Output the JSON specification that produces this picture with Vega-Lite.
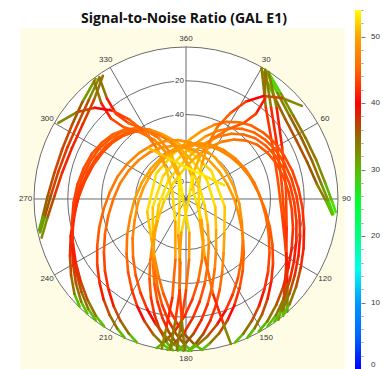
{
  "$schema": "https://vega.github.io/schema/vega-lite/v6.json",
  "width": 383,
  "height": 369,
  "padding": 0,
  "autosize": "none",
  "background": "white",
  "config": {"view": {"stroke": null}, "font": "Liberation Sans"},
  "resolve": {"scale": {"y": "independent"}, "axis": {"y": "independent"}},
  "layer": [
    {
      "data": {"values": [{}]},
      "mark": {"type": "rect", "fill": "#fffce6"},
      "encoding": {
        "x": {"datum": -98, "type": "quantitative", "scale": {"domain": [-110.13, 116.64], "nice": false, "zero": false}, "axis": null},
        "x2": {"datum": 94.1},
        "y": {"datum": 101.1, "type": "quantitative", "scale": {"domain": [-100.66, 117.83], "nice": false, "zero": false}, "axis": null},
        "y2": {"datum": -100.66}
      }
    },
    {
      "data": {"values": [{"zd": 90}]},
      "mark": {"type": "point", "shape": "circle", "filled": true, "fill": "white", "opacity": 1},
      "encoding": {
        "x": {"datum": 0, "type": "quantitative", "scale": {"domain": [-110.13, 116.64], "nice": false, "zero": false}, "axis": null},
        "y": {"datum": 0, "type": "quantitative", "scale": {"domain": [-100.66, 117.83], "nice": false, "zero": false}, "axis": null},
        "size": {"field": "zd", "type": "quantitative", "scale": {"type": "pow", "exponent": 2, "domain": [0, 90], "range": [0, 92416], "zero": true, "nice": false}, "legend": null}
      }
    },
    {
      "data": {"values": [{"zd": 90}, {"zd": 70}, {"zd": 50}, {"zd": 30}, {"zd": 10}]},
      "mark": {"type": "point", "shape": "circle", "filled": false, "stroke": "#5a5a5a", "strokeWidth": 0.9, "opacity": 1},
      "encoding": {
        "x": {"datum": 0, "type": "quantitative", "scale": {"domain": [-110.13, 116.64], "nice": false, "zero": false}, "axis": null},
        "y": {"datum": 0, "type": "quantitative", "scale": {"domain": [-100.66, 117.83], "nice": false, "zero": false}, "axis": null},
        "size": {"field": "zd", "type": "quantitative", "scale": {"type": "pow", "exponent": 2, "domain": [0, 90], "range": [0, 92416], "zero": true, "nice": false}, "legend": null}
      }
    },
    {
      "data": {"values": [{"az": 0}, {"az": 30}, {"az": 60}, {"az": 90}, {"az": 120}, {"az": 150}]},
      "transform": [
        {"calculate": "90*sin(datum.az*PI/180)", "as": "sx"},
        {"calculate": "90*cos(datum.az*PI/180)", "as": "sy"},
        {"calculate": "-datum.sx", "as": "ex"},
        {"calculate": "-datum.sy", "as": "ey"}
      ],
      "mark": {"type": "rule", "stroke": "#5a5a5a", "strokeWidth": 0.9},
      "encoding": {
        "x": {"field": "sx", "type": "quantitative", "scale": {"domain": [-110.13, 116.64], "nice": false, "zero": false}, "axis": null},
        "y": {"field": "sy", "type": "quantitative", "scale": {"domain": [-100.66, 117.83], "nice": false, "zero": false}, "axis": null},
        "x2": {"field": "ex"},
        "y2": {"field": "ey"}
      }
    },
    {
      "data": {"values": [
        {"az": 0, "t": "360"}, {"az": 30, "t": "30"}, {"az": 60, "t": "60"}, {"az": 90, "t": "90"},
        {"az": 120, "t": "120"}, {"az": 150, "t": "150"}, {"az": 180, "t": "180"}, {"az": 210, "t": "210"},
        {"az": 240, "t": "240"}, {"az": 270, "t": "270"}, {"az": 300, "t": "300"}, {"az": 330, "t": "330"}
      ]},
      "transform": [
        {"calculate": "95*sin(datum.az*PI/180)", "as": "lx"},
        {"calculate": "95*cos(datum.az*PI/180)", "as": "ly"}
      ],
      "mark": {"type": "text", "fontSize": 8, "fill": "#333333", "align": "center", "baseline": "middle"},
      "encoding": {
        "x": {"field": "lx", "type": "quantitative", "scale": {"domain": [-110.13, 116.64], "nice": false, "zero": false}, "axis": null},
        "y": {"field": "ly", "type": "quantitative", "scale": {"domain": [-100.66, 117.83], "nice": false, "zero": false}, "axis": null},
        "text": {"field": "t", "type": "nominal"}
      }
    },
    {
      "data": {"values": [{"el": 20}, {"el": 40}, {"el": 60}, {"el": 80}]},
      "transform": [{"calculate": "90-datum.el", "as": "ry"}, {"calculate": "0", "as": "rx"}],
      "mark": {"type": "text", "fontSize": 8, "fill": "white", "stroke": "white", "strokeWidth": 3, "align": "right", "baseline": "middle", "dx": -2},
      "encoding": {
        "x": {"field": "rx", "type": "quantitative", "scale": {"domain": [-110.13, 116.64], "nice": false, "zero": false}, "axis": null},
        "y": {"field": "ry", "type": "quantitative", "scale": {"domain": [-100.66, 117.83], "nice": false, "zero": false}, "axis": null},
        "text": {"field": "el", "type": "quantitative"}
      }
    },
    {
      "data": {"values": [{"el": 20}, {"el": 40}, {"el": 60}, {"el": 80}]},
      "transform": [{"calculate": "90-datum.el", "as": "ry"}, {"calculate": "0", "as": "rx"}],
      "mark": {"type": "text", "fontSize": 8, "fill": "#333333", "align": "right", "baseline": "middle", "dx": -2},
      "encoding": {
        "x": {"field": "rx", "type": "quantitative", "scale": {"domain": [-110.13, 116.64], "nice": false, "zero": false}, "axis": null},
        "y": {"field": "ry", "type": "quantitative", "scale": {"domain": [-100.66, 117.83], "nice": false, "zero": false}, "axis": null},
        "text": {"field": "el", "type": "quantitative"}
      }
    },
    {
      "data": {"values": [
        {"s":"W1","az":324.5,"el":1.6,"snr":29.4},{"s":"W1","az":315.4,"el":7.9,"snr":36.6},{"s":"W1","az":305.2,"el":11.9,"snr":38.6},{"s":"W1","az":293.6,"el":13.4,"snr":39},{"s":"W1","az":282.1,"el":12.7,"snr":38.8},{"s":"W1","az":271.3,"el":9.9,"snr":37.9},{"s":"W1","az":262.6,"el":5.6,"snr":34.6},{"s":"W1","az":257.1,"el":1.4,"snr":29.1},
        {"s":"W2","az":326,"el":2,"snr":30},{"s":"W2","az":317,"el":10,"snr":38},{"s":"W2","az":306,"el":14.5,"snr":39.4},{"s":"W2","az":294,"el":16,"snr":39.7},{"s":"W2","az":282,"el":15,"snr":39.5},{"s":"W2","az":271,"el":12,"snr":38.6},{"s":"W2","az":262,"el":7,"snr":36},{"s":"W2","az":255,"el":1.5,"snr":29.3},
        {"s":"W3","az":323,"el":1,"snr":28.5},{"s":"W3","az":313,"el":6,"snr":35},{"s":"W3","az":303,"el":9.5,"snr":37.7},{"s":"W3","az":292,"el":11,"snr":38.3},{"s":"W3","az":281,"el":10.5,"snr":38.2},{"s":"W3","az":271,"el":8,"snr":36.7},{"s":"W3","az":263,"el":4.5,"snr":33.5},{"s":"W3","az":258,"el":1,"snr":28.5},
        {"s":"E1","az":31.5,"el":0.3,"snr":25.3},{"s":"E1","az":40.6,"el":7,"snr":31.8},{"s":"E1","az":51,"el":11.3,"snr":34.8},{"s":"E1","az":62.2,"el":12.7,"snr":35.6},{"s":"E1","az":73.2,"el":12,"snr":35.2},{"s":"E1","az":83.6,"el":9.4,"snr":33.6},{"s":"E1","az":91.2,"el":5.4,"snr":30.4},{"s":"E1","az":95.9,"el":2.3,"snr":27.3},
        {"s":"E2","az":30,"el":1,"snr":26},{"s":"E2","az":40,"el":9.5,"snr":33.6},{"s":"E2","az":51,"el":14.5,"snr":36.7},{"s":"E2","az":62,"el":16,"snr":37.6},{"s":"E2","az":73,"el":15,"snr":37},{"s":"E2","az":83.5,"el":12,"snr":35.2},{"s":"E2","az":91,"el":7,"snr":31.8},{"s":"E2","az":96,"el":3,"snr":28},
        {"s":"E3","az":33,"el":0.5,"snr":25.5},{"s":"E3","az":42,"el":6,"snr":31},{"s":"E3","az":52,"el":9.5,"snr":33.6},{"s":"E3","az":63,"el":10.5,"snr":34.3},{"s":"E3","az":73.5,"el":9.5,"snr":33.6},{"s":"E3","az":83.5,"el":7,"snr":31.8},{"s":"E3","az":91,"el":3.5,"snr":28.5},{"s":"E3","az":95,"el":1,"snr":26},
        {"s":"V1","az":31.5,"el":0.3,"snr":27.5},{"s":"V1","az":43,"el":16.1,"snr":39.7},{"s":"V1","az":59.7,"el":27.5,"snr":42},{"s":"V1","az":81,"el":32.6,"snr":43.2},{"s":"V1","az":103,"el":30,"snr":42.5},{"s":"V1","az":121.2,"el":20.5,"snr":40.6},{"s":"V1","az":132.3,"el":9.7,"snr":37.8},{"s":"V1","az":140.3,"el":0,"snr":27},
        {"s":"V2","az":33,"el":0.3,"snr":27.5},{"s":"V2","az":45,"el":14,"snr":39.2},{"s":"V2","az":62,"el":25.5,"snr":41.6},{"s":"V2","az":84,"el":30.5,"snr":42.6},{"s":"V2","az":106,"el":28,"snr":42.1},{"s":"V2","az":124,"el":18.5,"snr":40.2},{"s":"V2","az":135,"el":8,"snr":36.7},{"s":"V2","az":142.5,"el":0,"snr":27},
        {"s":"V3","az":30,"el":0.5,"snr":27.8},{"s":"V3","az":41,"el":18,"snr":40.1},{"s":"V3","az":57.5,"el":29.5,"snr":42.4},{"s":"V3","az":78.5,"el":34.5,"snr":43.6},{"s":"V3","az":100.5,"el":32,"snr":43},{"s":"V3","az":118.5,"el":22.5,"snr":41},{"s":"V3","az":130,"el":11.5,"snr":38.5},{"s":"V3","az":138,"el":0.3,"snr":27.5},
        {"s":"L1","az":220.7,"el":0.5,"snr":27.8},{"s":"L1","az":225.6,"el":3.1,"snr":31.7},{"s":"L1","az":232.4,"el":7.8,"snr":36.5},{"s":"L1","az":239.9,"el":12.7,"snr":38.8},{"s":"L1","az":248.2,"el":17.3,"snr":40},{"s":"L1","az":257.1,"el":21.4,"snr":40.8},{"s":"L1","az":266.6,"el":24.8,"snr":41.5},{"s":"L1","az":276.2,"el":27.5,"snr":42},{"s":"L1","az":285.8,"el":29.7,"snr":42.4},{"s":"L1","az":295,"el":31.5,"snr":42.9},{"s":"L1","az":303.7,"el":33.2,"snr":43.3},{"s":"L1","az":311.7,"el":35.3,"snr":43.8},{"s":"L1","az":319.3,"el":37.8,"snr":44.5},{"s":"L1","az":326.3,"el":41.3,"snr":45.3},{"s":"L1","az":333.2,"el":45.7,"snr":46.1},{"s":"L1","az":340.2,"el":51.2,"snr":47.2},{"s":"L1","az":347.9,"el":57.8,"snr":48.6},{"s":"L1","az":357.7,"el":65.2,"snr":50},{"s":"L1","az":13.9,"el":73.1,"snr":51.6},{"s":"L1","az":50.2,"el":79.5,"snr":52.9},{"s":"L1","az":109.3,"el":78.3,"snr":52.7},{"s":"L1","az":139.9,"el":70,"snr":51},{"s":"L1","az":153.4,"el":59.8,"snr":49},{"s":"L1","az":161.6,"el":49.2,"snr":46.8},{"s":"L1","az":167.5,"el":38.7,"snr":44.7},{"s":"L1","az":172.4,"el":28.7,"snr":42.2},{"s":"L1","az":176.7,"el":19.5,"snr":40.4},{"s":"L1","az":180.7,"el":11.2,"snr":38.4},{"s":"L1","az":184.5,"el":4.2,"snr":33.2},{"s":"L1","az":187.1,"el":0.1,"snr":27.2},
        {"s":"L2","az":216.7,"el":0.5,"snr":27.8},{"s":"L2","az":221.6,"el":2.9,"snr":31.7},{"s":"L2","az":228.4,"el":7.2,"snr":36.5},{"s":"L2","az":235.9,"el":11.7,"snr":38.8},{"s":"L2","az":244.2,"el":15.9,"snr":40},{"s":"L2","az":253.1,"el":19.7,"snr":40.8},{"s":"L2","az":262.6,"el":22.8,"snr":41.5},{"s":"L2","az":272.2,"el":25.3,"snr":42},{"s":"L2","az":281.8,"el":27.3,"snr":42.4},{"s":"L2","az":291,"el":29,"snr":42.9},{"s":"L2","az":299.7,"el":30.5,"snr":43.3},{"s":"L2","az":307.7,"el":32.5,"snr":43.8},{"s":"L2","az":315.3,"el":34.8,"snr":44.5},{"s":"L2","az":322.3,"el":38,"snr":45.3},{"s":"L2","az":329.2,"el":42,"snr":46.1},{"s":"L2","az":336.2,"el":47.1,"snr":47.2},{"s":"L2","az":343.9,"el":53.2,"snr":48.6},{"s":"L2","az":353.7,"el":60,"snr":50},{"s":"L2","az":9.9,"el":67.3,"snr":51.6},{"s":"L2","az":46.2,"el":73.1,"snr":52.9},{"s":"L2","az":105.3,"el":72,"snr":52.7},{"s":"L2","az":135.9,"el":64.4,"snr":51},{"s":"L2","az":149.4,"el":55,"snr":49},{"s":"L2","az":157.6,"el":45.3,"snr":46.8},{"s":"L2","az":163.5,"el":35.6,"snr":44.7},{"s":"L2","az":168.4,"el":26.4,"snr":42.2},{"s":"L2","az":172.7,"el":17.9,"snr":40.4},{"s":"L2","az":176.7,"el":10.3,"snr":38.4},{"s":"L2","az":180.5,"el":3.9,"snr":33.2},{"s":"L2","az":183.1,"el":0.1,"snr":27.2},
        {"s":"L3","az":224.7,"el":0.5,"snr":27.8},{"s":"L3","az":229.6,"el":3.3,"snr":31.7},{"s":"L3","az":236.4,"el":8.3,"snr":36.5},{"s":"L3","az":243.9,"el":13.5,"snr":38.8},{"s":"L3","az":252.2,"el":18.3,"snr":40},{"s":"L3","az":261.1,"el":22.7,"snr":40.8},{"s":"L3","az":270.6,"el":26.3,"snr":41.5},{"s":"L3","az":280.2,"el":29.2,"snr":42},{"s":"L3","az":289.8,"el":31.5,"snr":42.4},{"s":"L3","az":299,"el":33.4,"snr":42.9},{"s":"L3","az":307.7,"el":35.2,"snr":43.3},{"s":"L3","az":315.7,"el":37.4,"snr":43.8},{"s":"L3","az":323.3,"el":40.1,"snr":44.5},{"s":"L3","az":330.3,"el":43.8,"snr":45.3},{"s":"L3","az":337.2,"el":48.4,"snr":46.1},{"s":"L3","az":344.2,"el":54.3,"snr":47.2},{"s":"L3","az":351.9,"el":61.3,"snr":48.6},{"s":"L3","az":1.7,"el":69.1,"snr":50},{"s":"L3","az":17.9,"el":77.5,"snr":51.6},{"s":"L3","az":54.2,"el":84.3,"snr":52.9},{"s":"L3","az":113.3,"el":83,"snr":52.7},{"s":"L3","az":143.9,"el":74.2,"snr":51},{"s":"L3","az":157.4,"el":63.4,"snr":49},{"s":"L3","az":165.6,"el":52.2,"snr":46.8},{"s":"L3","az":171.5,"el":41,"snr":44.7},{"s":"L3","az":176.4,"el":30.4,"snr":42.2},{"s":"L3","az":180.7,"el":20.7,"snr":40.4},{"s":"L3","az":184.7,"el":11.9,"snr":38.4},{"s":"L3","az":188.5,"el":4.5,"snr":33.2},{"s":"L3","az":191.1,"el":0.1,"snr":27.2},
        {"s":"L4","az":212.7,"el":0.4,"snr":27.8},{"s":"L4","az":217.6,"el":2.6,"snr":31.7},{"s":"L4","az":224.4,"el":6.6,"snr":36.5},{"s":"L4","az":231.9,"el":10.8,"snr":38.8},{"s":"L4","az":240.2,"el":14.7,"snr":40},{"s":"L4","az":249.1,"el":18.2,"snr":40.8},{"s":"L4","az":258.6,"el":21.1,"snr":41.5},{"s":"L4","az":268.2,"el":23.4,"snr":42},{"s":"L4","az":277.8,"el":25.2,"snr":42.4},{"s":"L4","az":287,"el":26.8,"snr":42.9},{"s":"L4","az":295.7,"el":28.2,"snr":43.3},{"s":"L4","az":303.7,"el":30,"snr":43.8},{"s":"L4","az":311.3,"el":32.1,"snr":44.5},{"s":"L4","az":318.3,"el":35.1,"snr":45.3},{"s":"L4","az":325.2,"el":38.8,"snr":46.1},{"s":"L4","az":332.2,"el":43.5,"snr":47.2},{"s":"L4","az":339.9,"el":49.1,"snr":48.6},{"s":"L4","az":349.7,"el":55.4,"snr":50},{"s":"L4","az":5.9,"el":62.1,"snr":51.6},{"s":"L4","az":42.2,"el":67.6,"snr":52.9},{"s":"L4","az":101.3,"el":66.6,"snr":52.7},{"s":"L4","az":131.9,"el":59.5,"snr":51},{"s":"L4","az":145.4,"el":50.8,"snr":49},{"s":"L4","az":153.6,"el":41.8,"snr":46.8},{"s":"L4","az":159.5,"el":32.9,"snr":44.7},{"s":"L4","az":164.4,"el":24.4,"snr":42.2},{"s":"L4","az":168.7,"el":16.6,"snr":40.4},{"s":"L4","az":172.7,"el":9.5,"snr":38.4},{"s":"L4","az":176.5,"el":3.6,"snr":33.2},{"s":"L4","az":179.1,"el":0.1,"snr":27.2},
        {"s":"R1","az":147.3,"el":0.5,"snr":27.8},{"s":"R1","az":142.4,"el":2.9,"snr":31.7},{"s":"R1","az":135.6,"el":7.3,"snr":36.5},{"s":"R1","az":128.1,"el":11.9,"snr":38.8},{"s":"R1","az":119.8,"el":16.3,"snr":40},{"s":"R1","az":110.9,"el":20.1,"snr":40.8},{"s":"R1","az":101.4,"el":23.3,"snr":41.5},{"s":"R1","az":91.8,"el":25.9,"snr":42},{"s":"R1","az":82.2,"el":27.9,"snr":42.4},{"s":"R1","az":73,"el":29.6,"snr":42.9},{"s":"R1","az":64.3,"el":31.2,"snr":43.3},{"s":"R1","az":56.3,"el":33.2,"snr":43.8},{"s":"R1","az":48.7,"el":35.5,"snr":44.5},{"s":"R1","az":41.7,"el":38.8,"snr":45.3},{"s":"R1","az":34.8,"el":43,"snr":46.1},{"s":"R1","az":27.8,"el":48.1,"snr":47.2},{"s":"R1","az":20.1,"el":54.3,"snr":48.6},{"s":"R1","az":10.3,"el":61.3,"snr":50},{"s":"R1","az":354.1,"el":68.7,"snr":51.6},{"s":"R1","az":317.8,"el":74.7,"snr":52.9},{"s":"R1","az":258.7,"el":73.6,"snr":52.7},{"s":"R1","az":228.1,"el":65.8,"snr":51},{"s":"R1","az":214.6,"el":56.2,"snr":49},{"s":"R1","az":206.4,"el":46.2,"snr":46.8},{"s":"R1","az":200.5,"el":36.4,"snr":44.7},{"s":"R1","az":195.6,"el":27,"snr":42.2},{"s":"R1","az":191.3,"el":18.3,"snr":40.4},{"s":"R1","az":187.3,"el":10.5,"snr":38.4},{"s":"R1","az":183.5,"el":3.9,"snr":33.2},{"s":"R1","az":180.9,"el":0.1,"snr":27.2},
        {"s":"R2","az":144.3,"el":0.4,"snr":27.8},{"s":"R2","az":139.4,"el":2.8,"snr":31.7},{"s":"R2","az":132.6,"el":6.9,"snr":36.5},{"s":"R2","az":125.1,"el":11.3,"snr":38.8},{"s":"R2","az":116.8,"el":15.4,"snr":40},{"s":"R2","az":107.9,"el":19,"snr":40.8},{"s":"R2","az":98.4,"el":22.1,"snr":41.5},{"s":"R2","az":88.8,"el":24.5,"snr":42},{"s":"R2","az":79.2,"el":26.4,"snr":42.4},{"s":"R2","az":70,"el":28,"snr":42.9},{"s":"R2","az":61.3,"el":29.5,"snr":43.3},{"s":"R2","az":53.3,"el":31.4,"snr":43.8},{"s":"R2","az":45.7,"el":33.6,"snr":44.5},{"s":"R2","az":38.7,"el":36.8,"snr":45.3},{"s":"R2","az":31.8,"el":40.7,"snr":46.1},{"s":"R2","az":24.8,"el":45.6,"snr":47.2},{"s":"R2","az":17.1,"el":51.4,"snr":48.6},{"s":"R2","az":7.3,"el":58,"snr":50},{"s":"R2","az":351.1,"el":65.1,"snr":51.6},{"s":"R2","az":314.8,"el":70.8,"snr":52.9},{"s":"R2","az":255.7,"el":69.7,"snr":52.7},{"s":"R2","az":225.1,"el":62.3,"snr":51},{"s":"R2","az":211.6,"el":53.2,"snr":49},{"s":"R2","az":203.4,"el":43.8,"snr":46.8},{"s":"R2","az":197.5,"el":34.4,"snr":44.7},{"s":"R2","az":192.6,"el":25.5,"snr":42.2},{"s":"R2","az":188.3,"el":17.4,"snr":40.4},{"s":"R2","az":184.3,"el":10,"snr":38.4},{"s":"R2","az":180.5,"el":3.7,"snr":33.2},{"s":"R2","az":177.9,"el":0.1,"snr":27.2},
        {"s":"R3","az":151.3,"el":0.5,"snr":27.8},{"s":"R3","az":146.4,"el":3,"snr":31.7},{"s":"R3","az":139.6,"el":7.6,"snr":36.5},{"s":"R3","az":132.1,"el":12.4,"snr":38.8},{"s":"R3","az":123.8,"el":17,"snr":40},{"s":"R3","az":114.9,"el":21,"snr":40.8},{"s":"R3","az":105.4,"el":24.3,"snr":41.5},{"s":"R3","az":95.8,"el":27,"snr":42},{"s":"R3","az":86.2,"el":29.1,"snr":42.4},{"s":"R3","az":77,"el":30.9,"snr":42.9},{"s":"R3","az":68.3,"el":32.5,"snr":43.3},{"s":"R3","az":60.3,"el":34.6,"snr":43.8},{"s":"R3","az":52.7,"el":37,"snr":44.5},{"s":"R3","az":45.7,"el":40.5,"snr":45.3},{"s":"R3","az":38.8,"el":44.8,"snr":46.1},{"s":"R3","az":31.8,"el":50.2,"snr":47.2},{"s":"R3","az":24.1,"el":56.6,"snr":48.6},{"s":"R3","az":14.3,"el":63.9,"snr":50},{"s":"R3","az":358.1,"el":71.6,"snr":51.6},{"s":"R3","az":321.8,"el":77.9,"snr":52.9},{"s":"R3","az":262.7,"el":76.7,"snr":52.7},{"s":"R3","az":232.1,"el":68.6,"snr":51},{"s":"R3","az":218.6,"el":58.6,"snr":49},{"s":"R3","az":210.4,"el":48.2,"snr":46.8},{"s":"R3","az":204.5,"el":37.9,"snr":44.7},{"s":"R3","az":199.6,"el":28.1,"snr":42.2},{"s":"R3","az":195.3,"el":19.1,"snr":40.4},{"s":"R3","az":191.3,"el":11,"snr":38.4},{"s":"R3","az":187.5,"el":4.1,"snr":33.2},{"s":"R3","az":184.9,"el":0.1,"snr":27.2},
        {"s":"R4","az":140.3,"el":0.4,"snr":27.8},{"s":"R4","az":135.4,"el":2.6,"snr":31.7},{"s":"R4","az":128.6,"el":6.6,"snr":36.5},{"s":"R4","az":121.1,"el":10.7,"snr":38.8},{"s":"R4","az":112.8,"el":14.5,"snr":40},{"s":"R4","az":103.9,"el":18,"snr":40.8},{"s":"R4","az":94.4,"el":20.8,"snr":41.5},{"s":"R4","az":84.8,"el":23.1,"snr":42},{"s":"R4","az":75.2,"el":24.9,"snr":42.4},{"s":"R4","az":66,"el":26.5,"snr":42.9},{"s":"R4","az":57.3,"el":27.9,"snr":43.3},{"s":"R4","az":49.3,"el":29.7,"snr":43.8},{"s":"R4","az":41.7,"el":31.8,"snr":44.5},{"s":"R4","az":34.7,"el":34.7,"snr":45.3},{"s":"R4","az":27.8,"el":38.4,"snr":46.1},{"s":"R4","az":20.8,"el":43,"snr":47.2},{"s":"R4","az":13.1,"el":48.6,"snr":48.6},{"s":"R4","az":3.3,"el":54.8,"snr":50},{"s":"R4","az":347.1,"el":61.4,"snr":51.6},{"s":"R4","az":310.8,"el":66.8,"snr":52.9},{"s":"R4","az":251.7,"el":65.8,"snr":52.7},{"s":"R4","az":221.1,"el":58.8,"snr":51},{"s":"R4","az":207.6,"el":50.2,"snr":49},{"s":"R4","az":199.4,"el":41.3,"snr":46.8},{"s":"R4","az":193.5,"el":32.5,"snr":44.7},{"s":"R4","az":188.6,"el":24.1,"snr":42.2},{"s":"R4","az":184.3,"el":16.4,"snr":40.4},{"s":"R4","az":180.3,"el":9.4,"snr":38.4},{"s":"R4","az":176.5,"el":3.5,"snr":33.2},{"s":"R4","az":173.9,"el":0.1,"snr":27.2},
        {"s":"M1","az":198.9,"el":0.2,"snr":27.3},{"s":"M1","az":203,"el":3.4,"snr":32.1},{"s":"M1","az":208.4,"el":8.2,"snr":36.8},{"s":"M1","az":214.3,"el":13.7,"snr":39.1},{"s":"M1","az":221,"el":19.8,"snr":40.5},{"s":"M1","az":228.5,"el":25.9,"snr":41.7},{"s":"M1","az":237.1,"el":32.1,"snr":43},{"s":"M1","az":246.8,"el":37.8,"snr":44.5},{"s":"M1","az":257.8,"el":42.9,"snr":45.6},{"s":"M1","az":270,"el":47,"snr":46.4},{"s":"M1","az":283,"el":49.8,"snr":47},{"s":"M1","az":296.3,"el":52.1,"snr":47.4},{"s":"M1","az":309.6,"el":53.8,"snr":47.8},{"s":"M1","az":322.4,"el":55,"snr":48},{"s":"M1","az":334.7,"el":56.3,"snr":48.3},{"s":"M1","az":347.1,"el":57.7,"snr":48.5},{"s":"M1","az":0,"el":59.5,"snr":48.9},{"s":"M1","az":14,"el":61.5,"snr":49.3},{"s":"M1","az":30.4,"el":63.3,"snr":49.7},{"s":"M1","az":49.3,"el":64.4,"snr":49.9},{"s":"M1","az":69.8,"el":64,"snr":49.8},{"s":"M1","az":90,"el":61.4,"snr":49.3},{"s":"M1","az":107.5,"el":57.1,"snr":48.4},{"s":"M1","az":121.4,"el":50.7,"snr":47.1},{"s":"M1","az":132.6,"el":43.5,"snr":45.7},{"s":"M1","az":141.7,"el":35.8,"snr":43.9},{"s":"M1","az":149.1,"el":28.3,"snr":42.2},{"s":"M1","az":155.6,"el":20.8,"snr":40.7},{"s":"M1","az":161.2,"el":14,"snr":39.2},{"s":"M1","az":166.3,"el":7.9,"snr":36.6},{"s":"M1","az":171.1,"el":2.9,"snr":31.4},{"s":"M1","az":173.8,"el":0.4,"snr":27.6},
        {"s":"M2","az":203.9,"el":0.2,"snr":27.3},{"s":"M2","az":208,"el":3.2,"snr":32.1},{"s":"M2","az":213.4,"el":7.8,"snr":36.8},{"s":"M2","az":219.3,"el":13,"snr":39.1},{"s":"M2","az":226,"el":18.8,"snr":40.5},{"s":"M2","az":233.5,"el":24.6,"snr":41.7},{"s":"M2","az":242.1,"el":30.5,"snr":43},{"s":"M2","az":251.8,"el":35.9,"snr":44.5},{"s":"M2","az":262.8,"el":40.8,"snr":45.6},{"s":"M2","az":275,"el":44.7,"snr":46.4},{"s":"M2","az":288,"el":47.3,"snr":47},{"s":"M2","az":301.3,"el":49.5,"snr":47.4},{"s":"M2","az":314.6,"el":51.1,"snr":47.8},{"s":"M2","az":327.4,"el":52.3,"snr":48},{"s":"M2","az":339.7,"el":53.5,"snr":48.3},{"s":"M2","az":352.1,"el":54.8,"snr":48.5},{"s":"M2","az":5,"el":56.5,"snr":48.9},{"s":"M2","az":19,"el":58.4,"snr":49.3},{"s":"M2","az":35.4,"el":60.1,"snr":49.7},{"s":"M2","az":54.3,"el":61.2,"snr":49.9},{"s":"M2","az":74.8,"el":60.8,"snr":49.8},{"s":"M2","az":95,"el":58.3,"snr":49.3},{"s":"M2","az":112.5,"el":54.2,"snr":48.4},{"s":"M2","az":126.4,"el":48.2,"snr":47.1},{"s":"M2","az":137.6,"el":41.3,"snr":45.7},{"s":"M2","az":146.7,"el":34,"snr":43.9},{"s":"M2","az":154.1,"el":26.9,"snr":42.2},{"s":"M2","az":160.6,"el":19.8,"snr":40.7},{"s":"M2","az":166.2,"el":13.3,"snr":39.2},{"s":"M2","az":171.3,"el":7.5,"snr":36.6},{"s":"M2","az":176.1,"el":2.8,"snr":31.4},{"s":"M2","az":178.8,"el":0.4,"snr":27.6},
        {"s":"M3","az":161.1,"el":0.2,"snr":27.3},{"s":"M3","az":157,"el":3.3,"snr":32.1},{"s":"M3","az":151.6,"el":8,"snr":36.8},{"s":"M3","az":145.7,"el":13.3,"snr":39.1},{"s":"M3","az":139,"el":19.2,"snr":40.5},{"s":"M3","az":131.5,"el":25.1,"snr":41.7},{"s":"M3","az":122.9,"el":31.1,"snr":43},{"s":"M3","az":113.2,"el":36.7,"snr":44.5},{"s":"M3","az":102.2,"el":41.6,"snr":45.6},{"s":"M3","az":90,"el":45.6,"snr":46.4},{"s":"M3","az":77,"el":48.3,"snr":47},{"s":"M3","az":63.7,"el":50.5,"snr":47.4},{"s":"M3","az":50.4,"el":52.2,"snr":47.8},{"s":"M3","az":37.6,"el":53.4,"snr":48},{"s":"M3","az":25.3,"el":54.6,"snr":48.3},{"s":"M3","az":12.9,"el":56,"snr":48.5},{"s":"M3","az":0,"el":57.7,"snr":48.9},{"s":"M3","az":346,"el":59.7,"snr":49.3},{"s":"M3","az":329.6,"el":61.4,"snr":49.7},{"s":"M3","az":310.7,"el":62.5,"snr":49.9},{"s":"M3","az":290.2,"el":62.1,"snr":49.8},{"s":"M3","az":270,"el":59.6,"snr":49.3},{"s":"M3","az":252.5,"el":55.4,"snr":48.4},{"s":"M3","az":238.6,"el":49.2,"snr":47.1},{"s":"M3","az":227.4,"el":42.2,"snr":45.7},{"s":"M3","az":218.3,"el":34.7,"snr":43.9},{"s":"M3","az":210.9,"el":27.5,"snr":42.2},{"s":"M3","az":204.4,"el":20.2,"snr":40.7},{"s":"M3","az":198.8,"el":13.6,"snr":39.2},{"s":"M3","az":193.7,"el":7.7,"snr":36.6},{"s":"M3","az":188.9,"el":2.8,"snr":31.4},{"s":"M3","az":186.2,"el":0.4,"snr":27.6},
        {"s":"M4","az":156.1,"el":0.2,"snr":27.3},{"s":"M4","az":152,"el":3.4,"snr":32.1},{"s":"M4","az":146.6,"el":8.2,"snr":36.8},{"s":"M4","az":140.7,"el":13.7,"snr":39.1},{"s":"M4","az":134,"el":19.8,"snr":40.5},{"s":"M4","az":126.5,"el":25.9,"snr":41.7},{"s":"M4","az":117.9,"el":32.1,"snr":43},{"s":"M4","az":108.2,"el":37.8,"snr":44.5},{"s":"M4","az":97.2,"el":42.9,"snr":45.6},{"s":"M4","az":85,"el":47,"snr":46.4},{"s":"M4","az":72,"el":49.8,"snr":47},{"s":"M4","az":58.7,"el":52.1,"snr":47.4},{"s":"M4","az":45.4,"el":53.8,"snr":47.8},{"s":"M4","az":32.6,"el":55,"snr":48},{"s":"M4","az":20.3,"el":56.3,"snr":48.3},{"s":"M4","az":7.9,"el":57.7,"snr":48.5},{"s":"M4","az":355,"el":59.5,"snr":48.9},{"s":"M4","az":341,"el":61.5,"snr":49.3},{"s":"M4","az":324.6,"el":63.3,"snr":49.7},{"s":"M4","az":305.7,"el":64.4,"snr":49.9},{"s":"M4","az":285.2,"el":64,"snr":49.8},{"s":"M4","az":265,"el":61.4,"snr":49.3},{"s":"M4","az":247.5,"el":57.1,"snr":48.4},{"s":"M4","az":233.6,"el":50.7,"snr":47.1},{"s":"M4","az":222.4,"el":43.5,"snr":45.7},{"s":"M4","az":213.3,"el":35.8,"snr":43.9},{"s":"M4","az":205.9,"el":28.3,"snr":42.2},{"s":"M4","az":199.4,"el":20.8,"snr":40.7},{"s":"M4","az":193.8,"el":14,"snr":39.2},{"s":"M4","az":188.7,"el":7.9,"snr":36.6},{"s":"M4","az":183.9,"el":2.9,"snr":31.4},{"s":"M4","az":181.2,"el":0.4,"snr":27.6},
        {"s":"B1","az":324.5,"el":1.6,"snr":29.4},{"s":"B1","az":321.8,"el":14.4,"snr":39.3},{"s":"B1","az":320.6,"el":24.8,"snr":41.5},{"s":"B1","az":322.8,"el":33.5,"snr":43.4},{"s":"B1","az":328.7,"el":41.5,"snr":45.3},{"s":"B1","az":335.8,"el":50.5,"snr":47.1},{"s":"B1","az":341.6,"el":61.6,"snr":49.3},{"s":"B1","az":345.1,"el":76,"snr":52.2},{"s":"B1","az":270,"el":88.2,"snr":54},{"s":"B1","az":174.3,"el":69.9,"snr":51},{"s":"B1","az":177.1,"el":54,"snr":47.8},{"s":"B1","az":180,"el":36,"snr":44},{"s":"B1","az":182.1,"el":18,"snr":40.1},{"s":"B1","az":183.5,"el":0.7,"snr":28},
        {"s":"B2","az":322,"el":1.6,"snr":29.4},{"s":"B2","az":318.5,"el":14.4,"snr":39.3},{"s":"B2","az":317,"el":24.8,"snr":41.5},{"s":"B2","az":319,"el":33.5,"snr":43.4},{"s":"B2","az":325,"el":41.5,"snr":45.3},{"s":"B2","az":332,"el":50.5,"snr":47.1},{"s":"B2","az":338,"el":61.6,"snr":49.3},{"s":"B2","az":342,"el":76,"snr":52.2},{"s":"B2","az":250,"el":86,"snr":54},{"s":"B2","az":192,"el":68,"snr":50.6},{"s":"B2","az":185,"el":52,"snr":47.4},{"s":"B2","az":184,"el":35,"snr":43.8},{"s":"B2","az":185,"el":17.5,"snr":40},{"s":"B2","az":186,"el":0.5,"snr":27.8},
        {"s":"B3","az":32,"el":1.6,"snr":29.4},{"s":"B3","az":38.2,"el":14.4,"snr":39.3},{"s":"B3","az":39.4,"el":24.8,"snr":41.5},{"s":"B3","az":37.2,"el":33.5,"snr":43.4},{"s":"B3","az":31.3,"el":41.5,"snr":45.3},{"s":"B3","az":24.2,"el":50.5,"snr":47.1},{"s":"B3","az":18.4,"el":61.6,"snr":49.3},{"s":"B3","az":14.9,"el":76,"snr":52.2},{"s":"B3","az":90,"el":88.2,"snr":54},{"s":"B3","az":188,"el":69.9,"snr":51},{"s":"B3","az":186,"el":54,"snr":47.8},{"s":"B3","az":184,"el":36,"snr":44},{"s":"B3","az":182,"el":18,"snr":40.1},{"s":"B3","az":180.5,"el":0.7,"snr":28},
        {"s":"C1","az":300.8,"el":2,"snr":30},{"s":"C1","az":308.4,"el":7.4,"snr":36.3},{"s":"C1","az":315,"el":13.6,"snr":39.1},{"s":"C1","az":320.4,"el":22.2,"snr":40.9},{"s":"C1","az":324.6,"el":32.6,"snr":43.2},{"s":"C1","az":328.5,"el":43.6,"snr":45.7},{"s":"C1","az":330.1,"el":55.7,"snr":48.1},{"s":"C1","az":327,"el":68.5,"snr":50.7},{"s":"C1","az":299.1,"el":80.7,"snr":53.1},{"s":"C1","az":205,"el":75.1,"snr":52},{"s":"C1","az":189.9,"el":53.5,"snr":47.7},{"s":"C1","az":187.9,"el":31,"snr":42.8},{"s":"C1","az":188.7,"el":12.6,"snr":38.8},{"s":"C1","az":189.2,"el":0.2,"snr":27.3},
        {"s":"C2","az":51.2,"el":2,"snr":30},{"s":"C2","az":43.6,"el":7.4,"snr":36.3},{"s":"C2","az":37,"el":13.6,"snr":39.1},{"s":"C2","az":31.6,"el":22.2,"snr":40.9},{"s":"C2","az":27.4,"el":32.6,"snr":43.2},{"s":"C2","az":23.5,"el":43.6,"snr":45.7},{"s":"C2","az":21.9,"el":55.7,"snr":48.1},{"s":"C2","az":25,"el":68.5,"snr":50.7},{"s":"C2","az":52.9,"el":80.7,"snr":53.1},{"s":"C2","az":147,"el":75.1,"snr":52},{"s":"C2","az":162.1,"el":53.5,"snr":47.7},{"s":"C2","az":164.1,"el":31,"snr":42.8},{"s":"C2","az":163.3,"el":12.6,"snr":38.8},{"s":"C2","az":162.8,"el":0.2,"snr":27.3},
        {"s":"Y1","az":324,"el":53,"snr":51},{"s":"Y1","az":336,"el":63.4,"snr":52},{"s":"Y1","az":0,"el":71.1,"snr":53.5},{"s":"Y1","az":39.8,"el":72.4,"snr":53.5},{"s":"Y1","az":70,"el":66,"snr":52}
      ]},
      "transform": [
        {"window": [
          {"op": "lead", "field": "az", "as": "az2"},
          {"op": "lead", "field": "el", "as": "el2"},
          {"op": "lead", "field": "snr", "as": "snr2"}
        ], "groupby": ["s"]},
        {"filter": "isValid(datum.az2)"},
        {"calculate": "(90-datum.el)*sin(datum.az*PI/180)", "as": "px"},
        {"calculate": "(90-datum.el)*cos(datum.az*PI/180)", "as": "py"},
        {"calculate": "(90-datum.el2)*sin(datum.az2*PI/180)", "as": "qx"},
        {"calculate": "(90-datum.el2)*cos(datum.az2*PI/180)", "as": "qy"},
        {"calculate": "(datum.snr+datum.snr2)/2", "as": "SNR"}
      ],
      "mark": {"type": "rule", "strokeWidth": 2.6, "strokeCap": "round"},
      "encoding": {
        "x": {"field": "px", "type": "quantitative", "scale": {"domain": [-110.13, 116.64], "nice": false, "zero": false}, "axis": null},
        "y": {"field": "py", "type": "quantitative", "scale": {"domain": [-100.66, 117.83], "nice": false, "zero": false}, "axis": null},
        "x2": {"field": "qx"},
        "y2": {"field": "qy"},
        "color": {
          "field": "SNR", "type": "quantitative",
          "scale": {"type": "linear", "domain": [0, 10, 14, 20, 26, 31, 36, 40, 47, 51, 54], "range": ["#0000ff", "#0099ff", "#00ffff", "#00ff80", "#00ff00", "#60a800", "#9a5500", "#ff0000", "#ff7a00", "#ffb000", "#ffff00"]},
          "legend": {"orient": "none", "legendX": 355, "legendY": 10, "direction": "vertical", "title": null, "gradientLength": 359, "gradientThickness": 6, "gradientStrokeWidth": 0, "values": [0, 10, 20, 30, 40, 50], "labelFontSize": 8, "labelOffset": 10, "labelColor": "#333333", "labelFont": "Liberation Sans"}
        }
      }
    },
    {
      "data": {"values": [{"v": 0}, {"v": 54}]},
      "mark": {"type": "point", "opacity": 0},
      "encoding": {
        "x": {"datum": 0, "type": "quantitative", "scale": {"domain": [-110.13, 116.64], "nice": false, "zero": false}, "axis": null},
        "y": {"field": "v", "type": "quantitative", "scale": {"domain": [0, 55.504], "nice": false, "zero": false},
          "axis": {"orient": "right", "offset": -22, "domain": false, "grid": false, "labels": false, "title": null, "ticks": true, "tickSize": 4, "tickWidth": 0.8, "tickColor": "#555555", "values": [0, 10, 20, 30, 40, 50]}}
      }
    },
    {
      "data": {"values": [{"v": 0}, {"v": 54}]},
      "mark": {"type": "point", "opacity": 0},
      "encoding": {
        "x": {"datum": 0, "type": "quantitative", "scale": {"domain": [-110.13, 116.64], "nice": false, "zero": false}, "axis": null},
        "y": {"field": "v", "type": "quantitative", "scale": {"domain": [0, 55.504], "nice": false, "zero": false},
          "axis": {"orient": "right", "offset": -22, "domain": false, "grid": false, "labels": false, "title": null, "ticks": true, "tickSize": 2, "tickWidth": 0.7, "tickColor": "#777777", "values": [2, 4, 6, 8, 12, 14, 16, 18, 22, 24, 26, 28, 32, 34, 36, 38, 42, 44, 46, 48, 52, 54]}}
      }
    },
    {
      "data": {"values": [{}]},
      "mark": {"type": "text", "text": "Signal-to-Noise Ratio (GAL E1)", "font": "Open Sans", "fontWeight": "bold", "fontSize": 14, "align": "center", "baseline": "alphabetic", "fill": "#111111"},
      "encoding": {
        "x": {"datum": -1.2, "type": "quantitative", "scale": {"domain": [-110.13, 116.64], "nice": false, "zero": false}, "axis": null},
        "y": {"datum": 104, "type": "quantitative", "scale": {"domain": [-100.66, 117.83], "nice": false, "zero": false}, "axis": null}
      }
    }
  ]
}
